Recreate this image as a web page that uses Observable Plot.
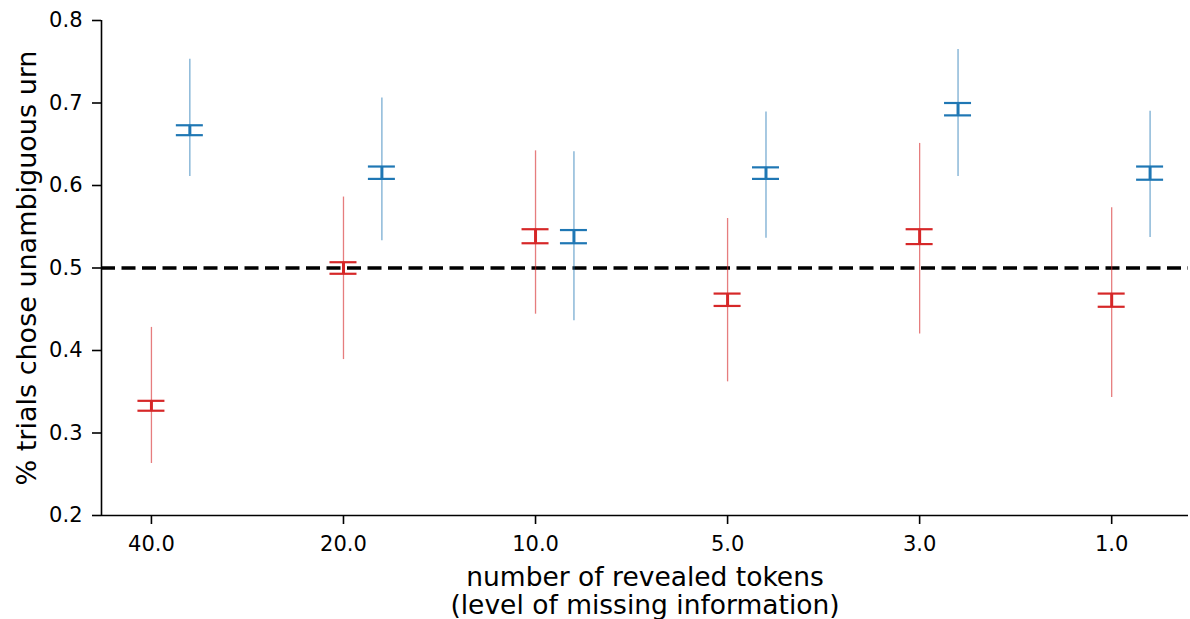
<!DOCTYPE html>
<html>
<head>
<meta charset="utf-8">
<script src="https://cdn.jsdelivr.net/npm/d3@7"></script>
<script src="https://cdn.jsdelivr.net/npm/@observablehq/plot@0.6"></script>
<style>
  html, body { margin: 0; padding: 0; background: #fff; }
  #chart svg { display: block; }
</style>
</head>
<body>
<div id="chart"></div>
<script>
// Categories (x tick labels)
const tokens = ["40.0", "20.0", "10.0", "5.0", "3.0", "1.0"];

// Red series: inner (capped) interval and outer (thin) interval
const redInnerLo = [0.327, 0.493, 0.530, 0.454, 0.529, 0.453];
const redInnerHi = [0.339, 0.507, 0.547, 0.469, 0.547, 0.469];
const redOuterLo = [0.263, 0.389, 0.444, 0.362, 0.420, 0.343];
const redOuterHi = [0.428, 0.586, 0.642, 0.560, 0.651, 0.573];

// Blue series
const blueInnerLo = [0.661, 0.608, 0.530, 0.608, 0.685, 0.607];
const blueInnerHi = [0.673, 0.623, 0.546, 0.622, 0.700, 0.623];
const blueOuterLo = [0.611, 0.533, 0.436, 0.536, 0.611, 0.537];
const blueOuterHi = [0.753, 0.706, 0.641, 0.689, 0.765, 0.690];

const yTicks = [0.2, 0.3, 0.4, 0.5, 0.6, 0.7, 0.8];
const chanceLevel = [0.5];

const yLabel = "% trials chose unambiguous urn";
const xLabel = "number of revealed tokens\n(level of missing information)";

const RED = "#d62728", BLUE = "#1f77b4";
const BLUE_SHIFT = 0.2;   // horizontal offset of the blue series (in category units)
const CAP = 0.0703;       // half cap width (in category units)

function build(lo, hi, olo, ohi, shift, color) {
  return tokens.map((t, i) => ({
    x: i + shift, lo: lo[i], hi: hi[i], olo: olo[i], ohi: ohi[i], color
  }));
}
const red = build(redInnerLo, redInnerHi, redOuterLo, redOuterHi, 0, RED);
const blue = build(blueInnerLo, blueInnerHi, blueOuterLo, blueOuterHi, BLUE_SHIFT, BLUE);
const all = red.concat(blue);

const xDomain = [-0.26, 5.4];
const yFmt = d3.format(".1f");

const chart = Plot.plot({
  width: 1190,
  height: 619,
  marginLeft: 101,
  marginRight: 2,
  marginTop: 20,
  marginBottom: 104,
  style: { fontFamily: "'DejaVu Sans', sans-serif", fontSize: "21px", background: "#fff", color: "#000" },
  x: { domain: xDomain, type: "linear" },
  y: { domain: [0.2, 0.8] },
  marks: [
    // chance level
    Plot.ruleY(chanceLevel, { stroke: "#000", strokeWidth: 3.5, strokeDasharray: "14,6.5" }),
    // outer thin intervals
    Plot.ruleX(all, { x: "x", y1: "olo", y2: "ohi", stroke: "color", strokeWidth: 1.3, strokeOpacity: 0.6 }),
    // inner thick intervals
    Plot.ruleX(all, { x: "x", y1: "lo", y2: "hi", stroke: "color", strokeWidth: 3 }),
    // caps
    Plot.ruleY(all, { y: "lo", x1: d => d.x - CAP, x2: d => d.x + CAP, stroke: "color", strokeWidth: 2.2 }),
    Plot.ruleY(all, { y: "hi", x1: d => d.x - CAP, x2: d => d.x + CAP, stroke: "color", strokeWidth: 2.2 }),
    // spines
    Plot.ruleX([xDomain[0]], { stroke: "#000", strokeWidth: 1.6 }),
    Plot.ruleY([0.2], { stroke: "#000", strokeWidth: 1.6 }),
    // axes
    Plot.axisY({ ticks: yTicks, tickFormat: yFmt, tickSize: 9, tickPadding: 10, fontSize: 21, label: null, strokeWidth: 1.6 }),
    Plot.axisX({ ticks: d3.range(tokens.length), tickFormat: i => tokens[i], tickSize: 9, tickPadding: 12, fontSize: 21, label: null, strokeWidth: 1.6 }),
    // axis labels
    Plot.text([yLabel], { frameAnchor: "left", textAnchor: "middle", rotate: -90, dx: -74, fontSize: 27, fill: "#000" }),
    Plot.text([xLabel], { frameAnchor: "bottom", lineAnchor: "top", dy: 50, fontSize: 26.5, lineHeight: 1.07, fill: "#000" })
  ]
});
document.getElementById("chart").appendChild(chart);
</script>
</body>
</html>
